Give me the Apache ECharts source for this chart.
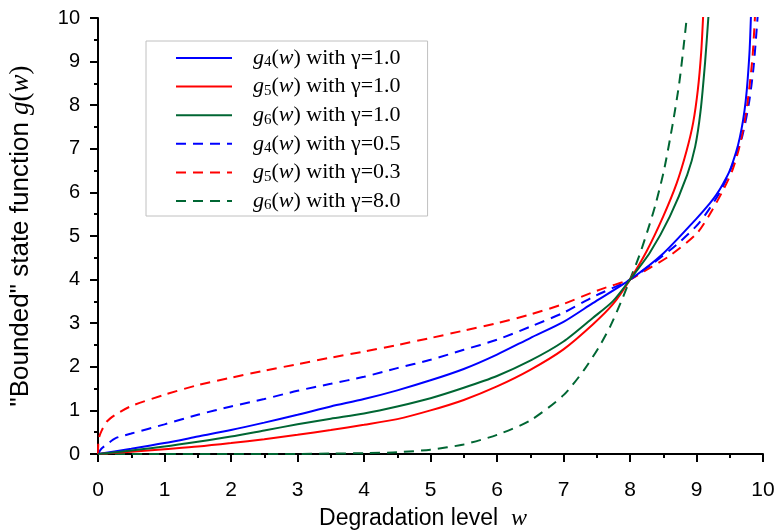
<!DOCTYPE html>
<html>
<head>
<meta charset="utf-8">
<script src="https://cdn.jsdelivr.net/npm/echarts@6/dist/echarts.min.js"></script>
<style>html,body{margin:0;padding:0;background:#fff}#c{width:774px;height:532px}</style>
</head>
<body>
<div id="c"></div>
<script>
// ---- data: [w, g(w)] pairs ----
const xTicks = [0,1,2,3,4,5,6,7,8,9,10];
const yTicks = [0,1,2,3,4,5,6,7,8,9,10];

const g4_g10 = [[0,0],[0.5,0.12],[1,0.25],[1.5,0.4],[2,0.55],[2.5,0.72],[3,0.9],[3.5,1.09],[4,1.26],[4.5,1.46],[5,1.69],[5.5,1.95],[6,2.28],[6.5,2.66],[7,3.03],[7.44,3.46],[8,4.0],[8.5,4.6],[9.0,5.4],[9.2,5.75],[9.3,5.95],[9.4,6.2],[9.5,6.5],[9.6,6.95],[9.65,7.25],[9.7,7.65],[9.74,8.1],[9.77,8.6],[9.8,9.3],[9.82,10.1]];
const g5_g10 = [[0,0],[0.5,0.05],[1,0.11],[1.5,0.17],[2,0.25],[2.5,0.34],[3,0.44],[3.5,0.55],[4,0.67],[4.5,0.8],[5,1.0],[5.5,1.24],[6,1.55],[6.5,1.93],[7,2.4],[7.44,2.97],[7.74,3.43],[8,4.0],[8.25,4.65],[8.5,5.45],[8.7,6.2],[8.85,6.95],[8.95,7.6],[9.02,8.35],[9.07,9.2],[9.1,10.05]];
const g6_g10 = [[0,0],[0.5,0.08],[1,0.17],[1.5,0.28],[2,0.4],[2.5,0.54],[3,0.68],[3.5,0.81],[4,0.93],[4.5,1.09],[5,1.28],[5.5,1.52],[6,1.79],[6.5,2.14],[7,2.58],[7.44,3.12],[7.74,3.5],[8,4.0],[8.3,4.62],[8.6,5.45],[8.86,6.4],[8.98,7.05],[9.06,7.85],[9.13,9.0],[9.18,10.05]];
const g4_g05 = [[0,0],[0.05,0.12],[0.15,0.24],[0.26,0.36],[0.5,0.47],[1,0.68],[1.5,0.9],[2,1.09],[2.5,1.26],[3,1.45],[3.5,1.61],[4,1.77],[4.5,1.97],[5,2.16],[5.5,2.39],[6,2.62],[6.5,2.92],[7,3.24],[7.44,3.6],[8,4.0],[8.34,4.37],[8.7,4.8],[9.04,5.3],[9.35,6.0],[9.56,6.7],[9.69,7.3],[9.79,8.06],[9.86,8.9],[9.92,10.05]];
const g5_g03 = [[0,0],[0.005,0.26],[0.02,0.4],[0.05,0.52],[0.13,0.74],[0.26,0.9],[0.5,1.1],[1,1.36],[1.5,1.58],[2,1.75],[2.5,1.91],[3,2.06],[3.5,2.21],[4,2.35],[4.5,2.5],[5,2.66],[5.5,2.83],[6,3.0],[6.5,3.2],[7,3.44],[7.44,3.71],[7.7,3.85],[8,4.0],[8.3,4.27],[8.6,4.55],[9.0,5.05],[9.2,5.5],[9.4,6.05],[9.55,6.55],[9.66,7.14],[9.76,7.98],[9.84,9.06],[9.88,10.05]];
const g6_g80 = [[0,0],[1,0],[2,0],[3,0],[3.5,0.01],[4,0.02],[4.5,0.04],[5,0.1],[5.5,0.22],[6,0.44],[6.5,0.77],[7,1.35],[7.31,1.93],[7.54,2.47],[7.71,2.95],[7.86,3.47],[8,4.0],[8.14,4.55],[8.26,5.1],[8.38,5.7],[8.51,6.5],[8.64,7.55],[8.74,8.5],[8.81,9.4],[8.86,10.1]];

const legendLabels = {
  'g4_g10': '{it|g}{sub|4}{rm|(}{it|w}{rm|) with γ=1.0}',
  'g5_g10': '{it|g}{sub|5}{rm|(}{it|w}{rm|) with γ=1.0}',
  'g6_g10': '{it|g}{sub|6}{rm|(}{it|w}{rm|) with γ=1.0}',
  'g4_g05': '{it|g}{sub|4}{rm|(}{it|w}{rm|) with γ=0.5}',
  'g5_g03': '{it|g}{sub|5}{rm|(}{it|w}{rm|) with γ=0.3}',
  'g6_g80': '{it|g}{sub|6}{rm|(}{it|w}{rm|) with γ=8.0}'
};

const BLUE = '#0000FF', RED = '#FF0000', GREEN = '#006633';
function mk(name, data, color, dashed) {
  return {
    name: name, type: 'line', data: data, symbol: 'none',
    smooth: 0.25,
    lineStyle: { color: color, width: 2, type: dashed ? [10, 7] : 'solid' },
    itemStyle: { color: color }, z: dashed ? 2 : 3
  };
}

const chart = echarts.init(document.getElementById('c'), null, { renderer: 'canvas' });
const axisCommon = {
  type: 'value', min: 0, max: 10, interval: 1,
  axisLine: { show: true, onZero: false, lineStyle: { color: '#000', width: 2 } },
  axisTick: { show: true, inside: false, length: 8, lineStyle: { color: '#000', width: 2 } },
  minorTick: { show: true, splitNumber: 2, length: 4, lineStyle: { color: '#000', width: 2 } },
  splitLine: { show: false }
};
chart.setOption({
  animation: false,
  backgroundColor: '#fff',
  grid: { left: 98, right: 11, top: 18, bottom: 78, containLabel: false, outerBoundsMode: 'none' },
  legend: {
    orient: 'vertical', left: 146, top: 41,
    padding: [6, 27, 3, 29],
    borderColor: '#c0c0c0', borderWidth: 1,
    itemWidth: 56, itemHeight: 14, itemGap: 5.6,
    itemStyle: { opacity: 0 },
    data: Object.keys(legendLabels),
    formatter: function (n) { return legendLabels[n]; },
    textStyle: {
      padding: [0, 0, 0, 16],
      rich: {
        it: { fontFamily: 'Liberation Serif', fontStyle: 'italic', fontSize: 22, color: '#000', lineHeight: 24, verticalAlign: 'middle' },
        rm: { fontFamily: 'Liberation Serif', fontSize: 22, color: '#000', lineHeight: 24, verticalAlign: 'middle' },
        sub: { fontFamily: 'Liberation Serif', fontSize: 15, color: '#000', lineHeight: 24, verticalAlign: 'bottom' }
      }
    }
  },
  xAxis: Object.assign({}, axisCommon, {
    name: '{s|Degradation level  }{it|w}',
    nameLocation: 'middle', nameGap: 53,
    nameTextStyle: {
      padding: [0, 15, 0, 0],
      rich: {
        s: { fontFamily: 'Liberation Sans', fontSize: 23, color: '#000' },
        it: { fontFamily: 'Liberation Serif', fontStyle: 'italic', fontSize: 24, color: '#000' }
      }
    },
    axisLabel: {
      margin: 26, color: '#000', fontFamily: 'Liberation Sans', fontSize: 21,
      formatter: function (v) { return xTicks.indexOf(v) >= 0 ? String(v) : ''; }
    }
  }),
  yAxis: Object.assign({}, axisCommon, {
    name: '{s|"Bounded" state function }{it|g}{rm|(}{it|w}{rm|)}',
    nameLocation: 'middle', nameGap: 64, nameRotate: 90,
    nameTextStyle: {
      rich: {
        s: { fontFamily: 'Liberation Sans', fontSize: 26, color: '#000' },
        it: { fontFamily: 'Liberation Serif', fontStyle: 'italic', fontSize: 27, color: '#000' },
        rm: { fontFamily: 'Liberation Serif', fontSize: 27, color: '#000' }
      }
    },
    axisLabel: {
      margin: 18, color: '#000', fontFamily: 'Liberation Sans', fontSize: 20,
      formatter: function (v) { return yTicks.indexOf(v) >= 0 ? String(v) : ''; }
    }
  }),
  series: [
    mk('g4_g10', g4_g10, BLUE, false),
    mk('g5_g10', g5_g10, RED, false),
    mk('g6_g10', g6_g10, GREEN, false),
    mk('g4_g05', g4_g05, BLUE, true),
    mk('g5_g03', g5_g03, RED, true),
    mk('g6_g80', g6_g80, GREEN, true)
  ]
});
</script>
</body>
</html>
